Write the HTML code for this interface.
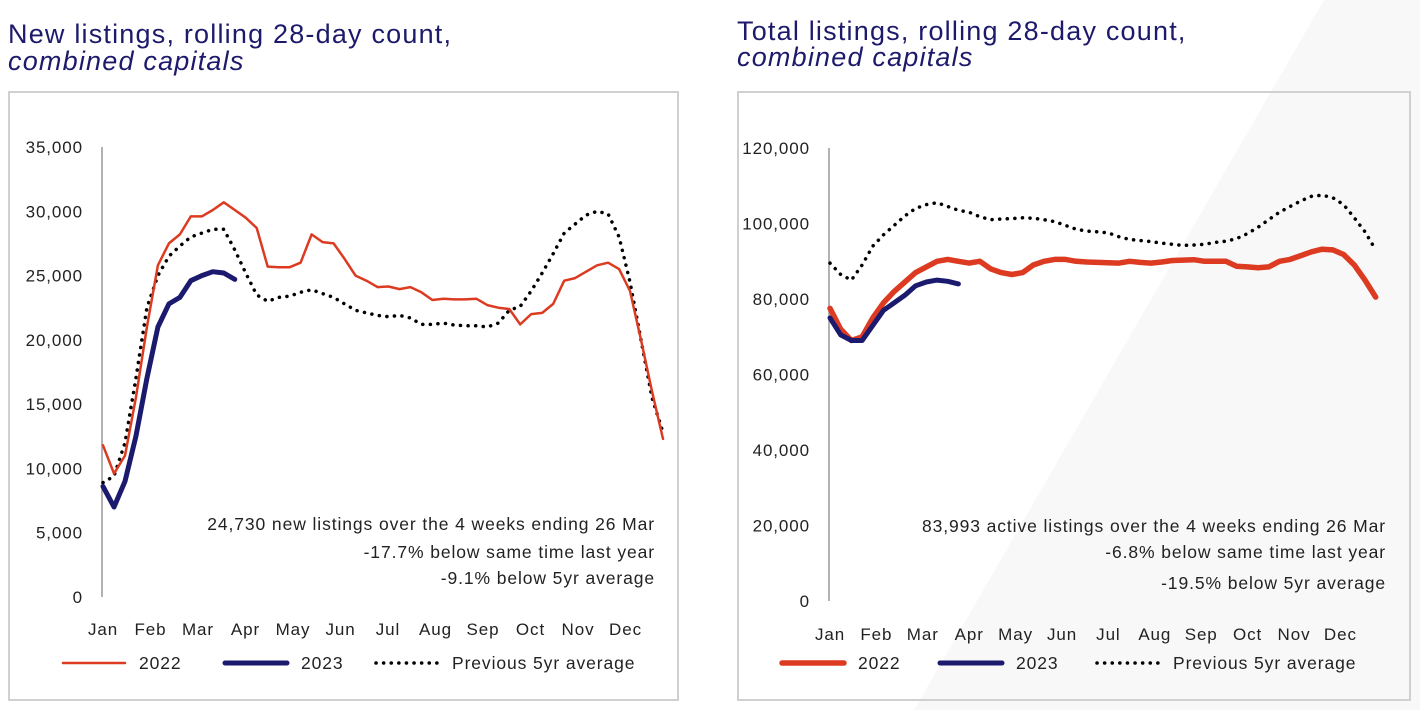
<!DOCTYPE html>
<html><head><meta charset="utf-8"><style>
body{margin:0;width:1420px;height:710px;overflow:hidden;background:#fff;font-family:"Liberation Sans",sans-serif}
svg{position:absolute;left:0;top:0}
.t{letter-spacing:1.2px}
.s{letter-spacing:0.9px}
</style></head><body>
<svg id="s" width="1420" height="710" xmlns="http://www.w3.org/2000/svg">
<polygon points="1324,0 1420,0 1420,710 914,710" fill="#f8f8f8"/>
<text class="t" x="8" y="43" font-size="27" fill="#1d1a6b">New listings, rolling 28-day count,</text>
<text class="t" x="8" y="70" font-size="27" font-style="italic" fill="#1d1a6b">combined capitals</text>
<text class="t" x="737" y="40" font-size="27" fill="#1d1a6b">Total listings, rolling 28-day count,</text>
<text class="t" x="737" y="66" font-size="27" font-style="italic" fill="#1d1a6b">combined capitals</text>
<rect x="9" y="92" width="669" height="608" fill="none" stroke="#d0d0d0" stroke-width="2"/>
<rect x="738" y="92" width="672" height="608" fill="none" stroke="#d0d0d0" stroke-width="2"/>
<g id="L"></g>
<g id="R"></g>
</svg>
<script>
const months=["Jan","Feb","Mar","Apr","May","Jun","Jul","Aug","Sep","Oct","Nov","Dec"];
const newTicks=[0,5000,10000,15000,20000,25000,30000,35000];
const new2022=[11800,9600,11000,15500,21000,25800,27500,28200,29600,29600,30100,30700,30100,29500,28700,25700,25650,25650,26000,28200,27600,27500,26300,25000,24600,24100,24150,23950,24100,23700,23100,23200,23150,23150,23200,22700,22500,22400,21200,22000,22100,22800,24600,24800,25300,25800,26000,25500,23800,20000,16000,12300];
const new2023=[8600,7000,9000,12500,17000,21000,22800,23300,24600,25000,25300,25200,24700];
const newAvg=[8900,9400,12000,17000,22500,25000,26500,27300,28000,28300,28600,28600,27000,25200,23500,23000,23300,23400,23700,23900,23600,23300,22800,22300,22100,21900,21800,21900,21700,21200,21200,21300,21150,21100,21100,21000,21300,22300,22600,23800,25200,26700,28300,29000,29700,30000,29800,28000,24500,20000,15500,12800];
const totTicks=[0,20000,40000,60000,80000,100000,120000];
const tot2022=[77500,72000,69000,70000,75000,79000,82000,84500,87000,88500,90000,90500,90000,89500,90000,88000,87000,86500,87000,89000,90000,90500,90500,90000,89800,89700,89600,89500,90000,89700,89500,89800,90200,90300,90400,90000,90000,90000,88700,88500,88300,88500,90000,90500,91500,92500,93200,93000,91800,89000,85000,80500];
const tot2023=[75000,70500,69000,69000,73000,77000,79000,81000,83500,84500,85000,84700,84000];
const totAvg=[89500,86500,85000,89000,94000,97000,99500,102000,104000,105000,105500,104500,103500,103000,101800,101000,101200,101300,101500,101400,101000,100500,99500,98500,98000,97800,97500,96500,95800,95500,95200,94800,94500,94200,94300,94500,95000,95300,96000,97300,99000,101000,103000,104500,106000,107200,107500,106800,105000,101500,97800,93000];
const NS="http://www.w3.org/2000/svg";
function mk(g,t,a){const e=document.createElementNS(NS,t);for(const k in a)e.setAttribute(k,a[k]);g.appendChild(e);return e;}
function chart(gid,c){
 const g=document.getElementById(gid);
 const y=v=>c.y0-(v/c.ymax)*(c.y0-c.y1);
 const x=i=>c.x0+i*c.step;
 const ax=mk(g,"line",{x1:c.x0-1,x2:c.x0-1,y1:c.y1,y2:c.y0,stroke:"#999","stroke-width":1.5});
 
 
 c.ticks.forEach(t=>{const e=mk(g,"text",{x:c.x0-20,y:y(t)+6,"text-anchor":"end","font-size":17,fill:"#222",class:"s"});e.textContent=t.toLocaleString("en-US");
  
  });
 months.forEach((m,i)=>{const e=mk(g,"text",{x:c.x0+i*c.mstep,y:c.my,"text-anchor":"middle","font-size":17,fill:"#222",class:"s"});e.textContent=m;
  
  });
 const ser=[[c.avg,"#000",3.5,"0.1 7.5","avg"],[c.s22,"#dc3b22",c.w22,"","2022"],[c.s23,"#1b1a6e",5,"","2023"]];
 ser.forEach(s=>{const p=mk(g,"path",{d:s[0].map((v,i)=>(i?"L":"M")+x(i).toFixed(1)+","+y(v).toFixed(1)).join(""),fill:"none",stroke:s[1],"stroke-width":s[2],"stroke-linecap":"round","stroke-linejoin":"round","stroke-dasharray":s[3]});
  
  });
 c.notes.forEach((n,i)=>{const e=mk(g,"text",{x:c.nx,y:c.ny[i],"text-anchor":"end","font-size":17.5,fill:"#222",class:"s"});e.textContent=n;
  
  });
 const L=c.leg;
 [[L[0],"#dc3b22",c.w22,"","2022"],[L[1],"#1b1a6e",5,"","2023"],[L[2],"#000",3.5,"0.1 7.5","Previous 5yr average"]].forEach(l=>{
  const ln=mk(g,"line",{x1:l[0],x2:l[0]+62,y1:c.ly-6,y2:c.ly-6,stroke:l[1],"stroke-width":l[2],"stroke-linecap":"round","stroke-dasharray":l[3]});
  
  
  const t=mk(g,"text",{x:l[0]+76,y:c.ly,"font-size":17.5,fill:"#222",class:"s"});t.textContent=l[4];
  
  });
}
chart("L",{x0:103,step:10.98,y0:597,y1:147,ymax:35000,ticks:newTicks,mstep:47.5,my:635,s22:new2022,s23:new2023,avg:newAvg,w22:2.5,
 notes:["24,730 new listings over the 4 weeks ending 26 Mar","-17.7% below same time last year","-9.1% below 5yr average"],nx:655,ny:[530,558,584],leg:[63,225,376],ly:669});
chart("R",{x0:830,step:10.7,y0:601,y1:148,ymax:120000,ticks:totTicks,mstep:46.4,my:640,s22:tot2022,s23:tot2023,avg:totAvg,w22:5.5,
 notes:["83,993 active listings over the 4 weeks ending 26 Mar","-6.8% below same time last year","-19.5% below 5yr average"],nx:1386,ny:[532,558,589],leg:[782,940,1097],ly:669});
</script>
</body></html>
